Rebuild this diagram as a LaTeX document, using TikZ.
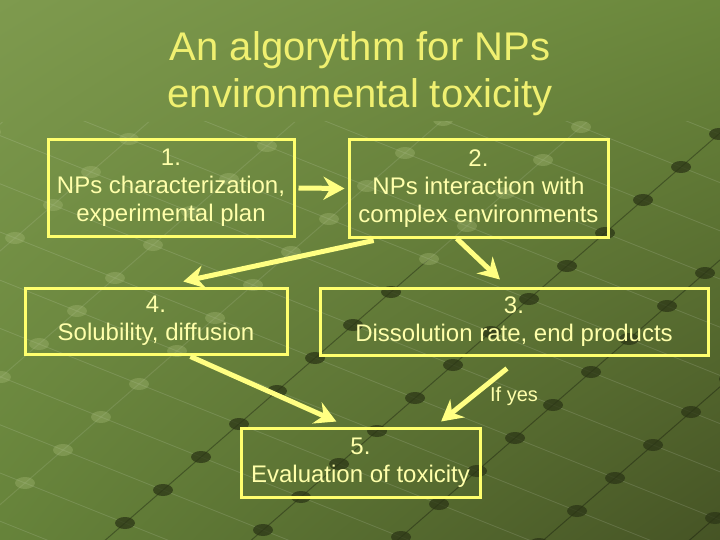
\documentclass[tikz,border=0pt]{standalone}
\usepackage{fontspec}
\setmainfont{Liberation Sans}
\usetikzlibrary{arrows.meta,calc,shadings}
\definecolor{bgUL}{HTML}{7E9A4E}
\definecolor{bgUR}{HTML}{6B883C}
\definecolor{bgLL}{HTML}{66833A}
\definecolor{bgLR}{HTML}{465425}
\definecolor{boxyellow}{HTML}{FFFF6E}
\definecolor{arrowyellow}{HTML}{FFFF82}
\definecolor{textyellow}{HTML}{FFFFAA}
\definecolor{titleyellow}{HTML}{F0F070}
\definecolor{dotdark}{HTML}{2C3616}
\definecolor{dotlight}{HTML}{A8BC78}
\begin{document}
\begin{tikzpicture}[x=1pt,y=-1pt,
  box/.style={draw=boxyellow, line width=3pt, align=center, text=textyellow,
    font=\fontsize{24}{28}\selectfont, inner sep=0pt},
  arr/.style={draw=arrowyellow, line width=5pt,
    -{Stealth[length=21pt,width=23pt,inset=7pt]}},
  titletext/.style={align=center, text=titleyellow, font=\fontsize{40}{47}\selectfont},
  smalllabel/.style={text=textyellow, font=\fontsize{20}{24}\selectfont},
  darkline/.style={draw=black, opacity=0.3, line width=1pt},
  paleline/.style={draw=white, opacity=0.10, line width=1pt},
  lightline/.style={draw=white, opacity=0.13, line width=0.8pt},
  darkdot/.style={fill=dotdark, opacity=0.75},
  lightdot/.style={fill=dotlight, opacity=0.35}
]
\useasboundingbox (0,0) rectangle (720,540);
\shade[upper left=bgUL, upper right=bgUR, lower left=bgLL, lower right=bgLR] (0,0) rectangle (720,540);
% background lattice
\begin{scope}
  \clip (0,122) rectangle (720,540);
  \foreach \i in {-14,...,14}{
    \draw[lightline] ({453-38*(\i)+100*(-10)},{365+33*(\i)+40*(-10)}) -- ({453-38*(\i)+100*(10)},{365+33*(\i)+40*(10)});
  }
  \begin{scope}
    \clip (634,122) -- (720,122) -- (720,540) -- (10,540) -- cycle;
    \foreach \j in {-10,...,10}{
      \draw[darkline] ({453-38*(-14)+100*(\j)},{365+33*(-14)+40*(\j)}) -- ({453-38*(14)+100*(\j)},{365+33*(14)+40*(\j)});
    }
  \end{scope}
  \begin{scope}
    \clip (634,122) -- (10,540) -- (0,540) -- (0,122) -- cycle;
    \foreach \j in {-10,...,10}{
      \draw[paleline] ({453-38*(-14)+100*(\j)},{365+33*(-14)+40*(\j)}) -- ({453-38*(14)+100*(\j)},{365+33*(14)+40*(\j)});
    }
  \end{scope}
  \foreach \i in {-12,...,12}{
    \foreach \j in {-8,...,8}{
      \pgfmathsetmacro\px{453-38*(\i)+100*(\j)}
      \pgfmathsetmacro\py{365+33*(\i)+40*(\j)}
      \pgfmathtruncatemacro\vis{and(and(\px>-20,\px<740),and(\py>110,\py<560))}
      \pgfmathtruncatemacro\dk{(\px+1.5*\py>820)?1:0}
      \ifnum\vis=1
        \ifnum\dk=1
          \fill[darkdot] (\px,\py) ellipse (10 and 6);
        \else
          \fill[lightdot] (\px,\py) ellipse (10 and 6);
        \fi
      \fi
    }
  }
\end{scope}
% title
\node[titletext] (title) at (360,74) {An algorythm for NPs\\environmental toxicity};
% boxes
\node[box, minimum width=246pt, minimum height=96pt] (b1) at (171,188) {1.\\NPs characterization,\\experimental plan};
\node[box, minimum width=259pt, minimum height=97pt] (b2) at (478.5,188.5) {2.\\NPs interaction with\\complex environments};
\node[box, minimum width=262pt, minimum height=66pt] (b4) at (156,321) {4.\\Solubility, diffusion};
\node[box, minimum width=388pt, minimum height=67pt] (b3) at (514,321.5) {3.\\Dissolution rate, end products};
\node[box, minimum width=239pt, minimum height=69pt] (b5) at (360.5,462.5) {5.\\Evaluation of toxicity};
% arrows
\draw[arr] ($(b1.east)+(3,0)$) -- ($(b2.west)+(-3,0)$);
\draw[arr] ($(b2.south west)!0.10!(b2.south east)+(0,2)$) -- ($(b4.north west)!0.603!(b4.north east)+(0,-5)$);
\draw[arr] ($(b2.south west)!0.417!(b2.south east)$) -- ($(b3.north west)!0.464!(b3.north east)+(0,-7)$);
\draw[arr] ($(b4.south west)!0.63!(b4.south east)+(0,1)$) -- ($(b5.north west)!0.40!(b5.north east)+(0,-5)$);
\draw[arr] ($(b3.south west)!0.482!(b3.south east)+(0,12)$) -- ($(b5.north west)!0.833!(b5.north east)+(0,-5)$);
\node[smalllabel] (ifyes) at (514,396) {If yes};
\end{tikzpicture}
\end{document}
